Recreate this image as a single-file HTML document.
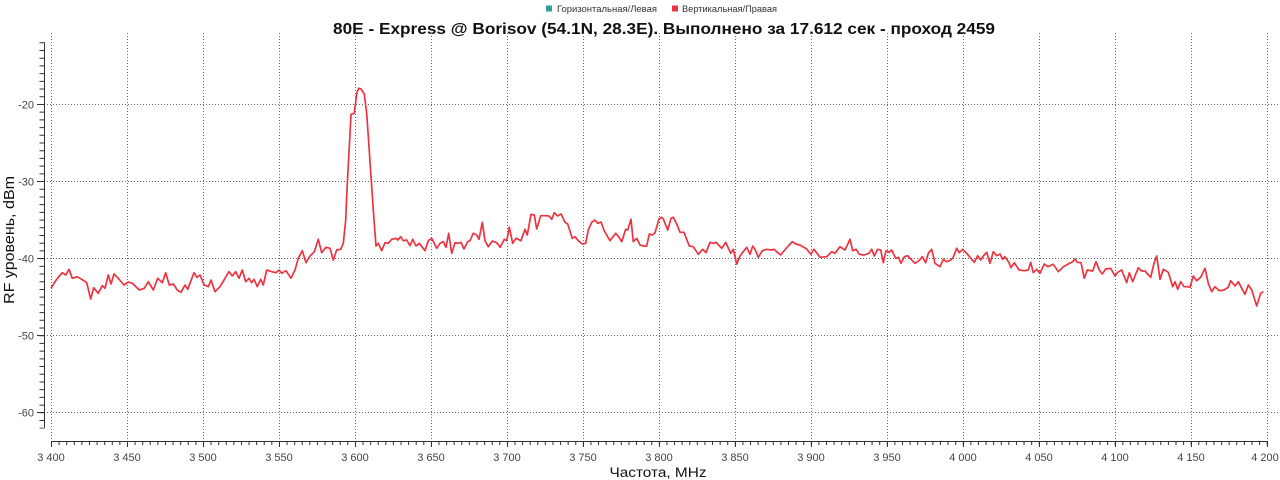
<!DOCTYPE html>
<html><head><meta charset="utf-8"><style>
html,body{margin:0;padding:0;background:#fff;}
svg{display:block;}
text{font-family:"Liberation Sans","DejaVu Sans",sans-serif;}
</style></head><body>
<svg width="1280" height="480" viewBox="0 0 1280 480" xmlns="http://www.w3.org/2000/svg">
<rect width="1280" height="480" fill="#fff"/>
<!-- legend -->
<rect x="546" y="5.5" width="6" height="6" fill="#3a9a9c"/>
<text x="557" y="12" font-size="9" fill="#333" textLength="100" lengthAdjust="spacingAndGlyphs">Горизонтальная/Левая</text>
<rect x="672" y="5.5" width="6" height="6" fill="#ee3340"/>
<text x="682" y="12" font-size="9" fill="#333" textLength="95" lengthAdjust="spacingAndGlyphs">Вертикальная/Правая</text>
<!-- title -->
<text x="664" y="34" font-size="16" font-weight="bold" fill="#111" text-anchor="middle" textLength="662" lengthAdjust="spacingAndGlyphs">80E - Express @ Borisov (54.1N, 28.3E). Выполнено за 17.612 сек - проход 2459</text>
<!-- grid -->
<g stroke="#666" stroke-width="1" stroke-dasharray="1 2" fill="none">
<line x1="47" y1="104.5" x2="1278" y2="104.5"/>
<line x1="47" y1="181.5" x2="1278" y2="181.5"/>
<line x1="47" y1="258.5" x2="1278" y2="258.5"/>
<line x1="47" y1="335.5" x2="1278" y2="335.5"/>
<line x1="47" y1="412.5" x2="1278" y2="412.5"/>
<line x1="51.5" y1="33" x2="51.5" y2="441"/>
<line x1="127.5" y1="33" x2="127.5" y2="441"/>
<line x1="203.5" y1="33" x2="203.5" y2="441"/>
<line x1="279.5" y1="33" x2="279.5" y2="441"/>
<line x1="355.5" y1="33" x2="355.5" y2="441"/>
<line x1="431.5" y1="33" x2="431.5" y2="441"/>
<line x1="507.5" y1="33" x2="507.5" y2="441"/>
<line x1="583.5" y1="33" x2="583.5" y2="441"/>
<line x1="659.5" y1="33" x2="659.5" y2="441"/>
<line x1="735.5" y1="33" x2="735.5" y2="441"/>
<line x1="811.5" y1="33" x2="811.5" y2="441"/>
<line x1="887.5" y1="33" x2="887.5" y2="441"/>
<line x1="963.5" y1="33" x2="963.5" y2="441"/>
<line x1="1039.5" y1="33" x2="1039.5" y2="441"/>
<line x1="1115.5" y1="33" x2="1115.5" y2="441"/>
<line x1="1191.5" y1="33" x2="1191.5" y2="441"/>
<line x1="1267.5" y1="33" x2="1267.5" y2="441"/>
</g>
<!-- y axis -->
<g stroke="#333" stroke-width="1">
<line x1="44.5" y1="42.3" x2="44.5" y2="427.7"/>
<line x1="42" y1="42.3" x2="42" y2="428.5" stroke-width="5" stroke-dasharray="1 6.708" stroke-dashoffset="0"/>
<line x1="37" y1="104.5" x2="44.5" y2="104.5"/>
<line x1="37" y1="181.5" x2="44.5" y2="181.5"/>
<line x1="37" y1="258.5" x2="44.5" y2="258.5"/>
<line x1="37" y1="335.5" x2="44.5" y2="335.5"/>
<line x1="37" y1="412.5" x2="44.5" y2="412.5"/>
</g>
<g font-size="11" fill="#444" text-anchor="end">
<text x="34" y="108.5">-20</text>
<text x="34" y="185.5">-30</text>
<text x="34" y="262.5">-40</text>
<text x="34" y="339.5">-50</text>
<text x="34" y="416.5">-60</text>
</g>
<!-- x axis -->
<g stroke="#333" stroke-width="1">
<line x1="51" y1="441.5" x2="1267.5" y2="441.5"/>
<line x1="51" y1="443" x2="1270" y2="443" stroke-width="4" stroke-dasharray="1 6.598"/>
<line x1="51.5" y1="441" x2="51.5" y2="447"/>
<line x1="127.5" y1="441" x2="127.5" y2="447"/>
<line x1="203.5" y1="441" x2="203.5" y2="447"/>
<line x1="279.5" y1="441" x2="279.5" y2="447"/>
<line x1="355.5" y1="441" x2="355.5" y2="447"/>
<line x1="431.5" y1="441" x2="431.5" y2="447"/>
<line x1="507.5" y1="441" x2="507.5" y2="447"/>
<line x1="583.5" y1="441" x2="583.5" y2="447"/>
<line x1="659.5" y1="441" x2="659.5" y2="447"/>
<line x1="735.5" y1="441" x2="735.5" y2="447"/>
<line x1="811.5" y1="441" x2="811.5" y2="447"/>
<line x1="887.5" y1="441" x2="887.5" y2="447"/>
<line x1="963.5" y1="441" x2="963.5" y2="447"/>
<line x1="1039.5" y1="441" x2="1039.5" y2="447"/>
<line x1="1115.5" y1="441" x2="1115.5" y2="447"/>
<line x1="1191.5" y1="441" x2="1191.5" y2="447"/>
<line x1="1267.5" y1="441" x2="1267.5" y2="447"/>
</g>
<g font-size="11" fill="#444" text-anchor="middle">
<text x="51" y="461">3 400</text>
<text x="127" y="461">3 450</text>
<text x="203" y="461">3 500</text>
<text x="279" y="461">3 550</text>
<text x="355" y="461">3 600</text>
<text x="431" y="461">3 650</text>
<text x="507" y="461">3 700</text>
<text x="583" y="461">3 750</text>
<text x="659" y="461">3 800</text>
<text x="735" y="461">3 850</text>
<text x="811" y="461">3 900</text>
<text x="887" y="461">3 950</text>
<text x="963" y="461">4 000</text>
<text x="1039" y="461">4 050</text>
<text x="1115" y="461">4 100</text>
<text x="1191" y="461">4 150</text>
<text x="1265" y="461">4 200</text>
</g>
<!-- axis titles -->
<text x="658" y="477" font-size="14" fill="#111" text-anchor="middle" textLength="97" lengthAdjust="spacingAndGlyphs">Частота, MHz</text>
<text transform="translate(14,240) rotate(-90)" x="0" y="0" font-size="15" fill="#111" text-anchor="middle" textLength="128" lengthAdjust="spacingAndGlyphs">RF уровень, dBm</text>
<!-- series -->
<polyline fill="none" stroke="#ee3340" stroke-width="1.7" stroke-linejoin="round" points="51,288.3 55,281.7 58.3,277.3 62.3,272.7 65.7,275 69,269.3 72.3,278.3 77.3,276.7 81.7,279.3 86.7,282.7 90.7,299 93.7,287.7 98.3,293.3 102.3,285.7 105,288.3 108.3,275 111,284 114,274 118.3,278.3 124,285 128.3,282 132.3,283.3 139.3,290 144.3,288.3 148.3,281.7 153.3,290 157.7,278.3 162.3,282.7 165.7,272.7 169.3,285 173.3,284 177.3,290 181,292.3 185,285 187.7,289.3 194,272.7 197,277.3 200,275 204.3,285 208.3,286.7 211,280 215,291.7 220,286.7 225,278.3 229,271.7 232.3,276 235.7,271.7 239,278.3 242.3,270 245.7,281.7 249,278.3 251.7,282.7 254,279.3 257.3,286.7 260.7,279.3 263.3,285 266.7,270 271.7,271.7 276,272.7 279,270 281.7,273.3 286,270.7 291,278.3 295,270 298.3,258.3 302.3,250.7 306,262.7 310,256 314.3,251.7 318.3,239.3 321.7,252.7 326,247.3 330,248.3 333.3,260 336.7,250 340.7,249.3 343.3,243.3 345.7,220 347.3,183.3 349.3,146.7 351,114.3 354.3,113.3 356.7,93.3 358.7,88.3 361,89 364.3,94 366.7,113.3 369,146.7 371.7,186.7 374,220 376,246 378.3,243.3 381.7,250.7 385,242.7 388.3,243.3 391.7,239.3 396,238.3 397.7,240 400.7,236.7 403.3,240.7 406.7,240 410,245.7 412.7,239.3 416,246 419.3,243.3 425,250.7 428.3,240.7 431.7,238.3 436.7,248.3 440,243.3 443.3,241.7 446,247.3 448.7,233.3 451.7,253.3 455,242.7 458.3,243.3 461,242.3 464,249 467.7,241.7 470,240.7 473.3,233.3 476.7,235 479,239.3 482.3,222.3 485,240.7 488.3,246.7 492.3,241 496.7,242.7 500.3,247.3 504.3,239.3 506.7,240.7 509.3,227.3 512.7,243.3 516,238.3 521,240.7 525,229.3 527.3,235 531,214.3 534.3,215 536.7,229 540.7,215.7 545,215.7 549,216 551.7,219.3 554.3,212.7 557.7,216 561,214 565,222.3 567.7,224 572.3,238.3 575,236.7 578.3,240.7 582.3,244 585.7,243.3 588.3,230 591.7,222.3 595,220 597.7,223.3 601,222 604.3,231 610,240.7 615.7,233.3 619,237.3 621.7,241.7 625.7,229.3 627.7,230 631,219.3 633.3,241.7 636.7,238.3 640,245 643.3,246 646.7,246 649.3,234 652.3,235 655,232.7 659,219 661.7,217.3 663.3,219 667.7,230 671,218.3 673.3,217.3 676.7,224 680,232.3 684,232.3 689.3,246 693.3,246.7 698.3,254.3 702.7,249.3 706,252.7 710,242.3 713.3,243.3 716,242.3 721.7,248.3 725.7,242.3 730.7,253.3 733.3,249.3 736.7,264 740,256 743.3,251.7 746.7,247.3 750,254.3 752.7,246 755,249.3 758.3,257.3 762.3,250.7 766.7,249.3 771,250 774,249.3 776.7,251.7 780.7,255 783.3,251.7 788.3,246 792.3,241.7 795.7,244 800,245 806.7,249 810.7,254.3 814,249.3 820,257.3 826.7,256.7 831.7,251.7 835,253.3 840,246.7 845,250 850,239.3 852.7,250.7 856,249.3 859.3,254.3 864,255 869,253.3 871.7,249.3 874.3,256 877.7,249.3 880.7,250 883.3,262.7 886,250.7 889,252.3 891.7,250 895.7,258.3 898.3,257.3 901,263.3 904.3,256.7 907.7,255.7 911,259.3 915,263.3 919,260.7 922.3,256.7 925.7,262.7 928.3,253.3 931.7,249.3 935,263.3 940,266.7 943.3,259.3 946.7,261.7 951,260 953.3,257.3 956.7,248.3 959.3,252.7 962.7,249.3 966.7,253.3 970,257.3 974.3,262.3 977.7,255.7 980.7,260 983.3,256 986.7,252.3 990,263.3 993.3,251.7 996.7,255.7 1000,254 1002.7,259.3 1005,256.7 1009,262.7 1011,267.7 1014.3,262.7 1019,270 1024.3,270.7 1028.3,270 1030.7,262.3 1033.3,272.7 1036.7,269.3 1040,273.3 1044.3,264 1047.7,266.7 1053.3,264.3 1058.3,271.7 1063.3,266.7 1068.3,264 1072.7,261.7 1075,259 1077.3,262.3 1081,262.7 1084.3,278.3 1087.3,270 1092.7,271 1096,261.7 1099.3,270 1102.3,274 1105.7,269 1110.7,268.3 1115,276 1117.7,272.3 1121.7,270 1126.7,282.7 1129.3,272.7 1132.7,281.7 1138.3,267.7 1141.7,271 1145,271 1150.7,277.3 1154,263.3 1156.7,256 1160,279.3 1163.3,269.3 1168.3,272.3 1172.7,286.7 1175,281.7 1177.7,289.3 1180.7,281.7 1184,286.7 1187.3,286.7 1190,287.3 1193.3,276 1196.7,280.7 1200.7,277.3 1205,268.3 1208.3,283.3 1211.7,291.7 1215,286.7 1219.3,290.7 1224,290 1228.3,287.3 1230.7,280.7 1235,286 1238.3,281.7 1241.7,288.3 1245,294.3 1248.3,285 1251.7,290 1256.7,306 1260.7,293.3 1263.3,291.7"/>
</svg>
</body></html>
